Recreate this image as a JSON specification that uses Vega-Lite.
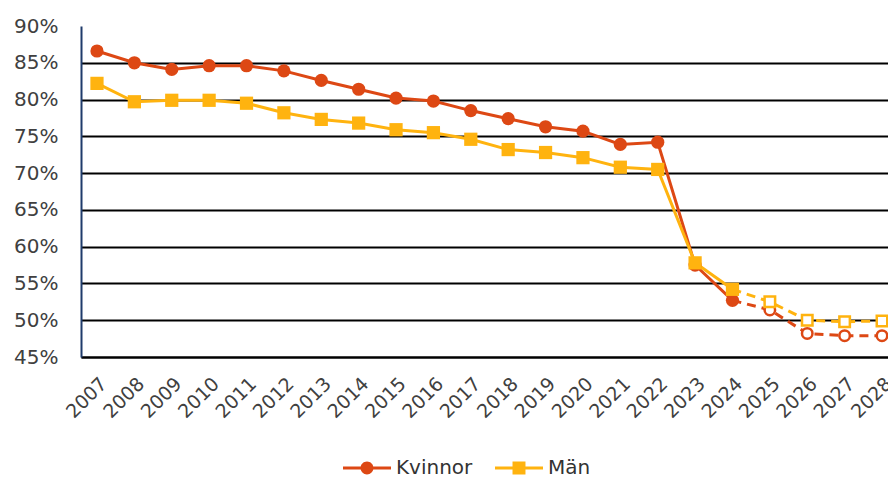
{
  "$schema": "https://vega.github.io/schema/vega-lite/v6.json",
  "autosize": {"type": "none"},
  "padding": {"left": 81, "top": 26, "right": 0, "bottom": 123},
  "width": 807,
  "height": 331,
  "background": "white",
  "config": {
    "view": {"stroke": null},
    "font": "DejaVu Sans",
    "axis": {"labelFont": "DejaVu Sans", "labelColor": "#404040", "ticks": false, "title": null},
    "legend": {"labelFont": "DejaVu Sans"}
  },
  "data": {
    "values": [
      {"year": 2007, "kon": "Kvinnor", "andel": 86.6},
      {"year": 2008, "kon": "Kvinnor", "andel": 85.0},
      {"year": 2009, "kon": "Kvinnor", "andel": 84.1},
      {"year": 2010, "kon": "Kvinnor", "andel": 84.6},
      {"year": 2011, "kon": "Kvinnor", "andel": 84.6},
      {"year": 2012, "kon": "Kvinnor", "andel": 83.9},
      {"year": 2013, "kon": "Kvinnor", "andel": 82.6},
      {"year": 2014, "kon": "Kvinnor", "andel": 81.4},
      {"year": 2015, "kon": "Kvinnor", "andel": 80.2},
      {"year": 2016, "kon": "Kvinnor", "andel": 79.8},
      {"year": 2017, "kon": "Kvinnor", "andel": 78.5},
      {"year": 2018, "kon": "Kvinnor", "andel": 77.4},
      {"year": 2019, "kon": "Kvinnor", "andel": 76.3},
      {"year": 2020, "kon": "Kvinnor", "andel": 75.7},
      {"year": 2021, "kon": "Kvinnor", "andel": 73.9},
      {"year": 2022, "kon": "Kvinnor", "andel": 74.2},
      {"year": 2023, "kon": "Kvinnor", "andel": 57.5},
      {"year": 2024, "kon": "Kvinnor", "andel": 52.7},
      {"year": 2025, "kon": "Kvinnor", "andel": 51.4},
      {"year": 2026, "kon": "Kvinnor", "andel": 48.2},
      {"year": 2027, "kon": "Kvinnor", "andel": 47.9},
      {"year": 2028, "kon": "Kvinnor", "andel": 47.9},
      {"year": 2007, "kon": "Män", "andel": 82.2},
      {"year": 2008, "kon": "Män", "andel": 79.7},
      {"year": 2009, "kon": "Män", "andel": 79.9},
      {"year": 2010, "kon": "Män", "andel": 79.9},
      {"year": 2011, "kon": "Män", "andel": 79.5},
      {"year": 2012, "kon": "Män", "andel": 78.2},
      {"year": 2013, "kon": "Män", "andel": 77.3},
      {"year": 2014, "kon": "Män", "andel": 76.8},
      {"year": 2015, "kon": "Män", "andel": 75.9},
      {"year": 2016, "kon": "Män", "andel": 75.5},
      {"year": 2017, "kon": "Män", "andel": 74.6},
      {"year": 2018, "kon": "Män", "andel": 73.2},
      {"year": 2019, "kon": "Män", "andel": 72.8},
      {"year": 2020, "kon": "Män", "andel": 72.1},
      {"year": 2021, "kon": "Män", "andel": 70.8},
      {"year": 2022, "kon": "Män", "andel": 70.5},
      {"year": 2023, "kon": "Män", "andel": 57.8},
      {"year": 2024, "kon": "Män", "andel": 54.2},
      {"year": 2025, "kon": "Män", "andel": 52.5},
      {"year": 2026, "kon": "Män", "andel": 50.0},
      {"year": 2027, "kon": "Män", "andel": 49.8},
      {"year": 2028, "kon": "Män", "andel": 49.9}
    ]
  },
  "encoding": {
    "x": {
      "field": "year",
      "type": "ordinal",
      "scale": {"type": "point", "padding": 0.294, "align": 0.727},
      "axis": {
        "labelAngle": -45,
        "labelFontSize": 19,
        "labelPadding": 17,
        "labelOverlap": false,
        "domainColor": "#000000",
        "domainWidth": 2,
        "grid": false
      }
    },
    "y": {
      "field": "andel",
      "type": "quantitative",
      "scale": {"domain": [45, 90], "nice": false, "zero": false},
      "axis": {
        "values": [45, 50, 55, 60, 65, 70, 75, 80, 85, 90],
        "labelExpr": "datum.value + '%'",
        "labelFontSize": 20,
        "labelPadding": 23,
        "domainColor": "#1F3B6B",
        "domainWidth": 2,
        "grid": true,
        "gridColor": "#000000",
        "gridWidth": 2,
        "gridOpacity": {"condition": {"test": "datum.value >= 90", "value": 0}, "value": 1}
      }
    },
    "color": {
      "field": "kon",
      "type": "nominal",
      "scale": {"domain": ["Kvinnor", "Män"], "range": ["#DD4814", "#FFB30F"]},
      "legend": {
        "title": null,
        "orient": "none",
        "direction": "horizontal",
        "legendX": 262,
        "legendY": 418,
        "padding": 0,
        "columnPadding": 22,
        "labelFontSize": 20,
        "labelColor": "#333333",
        "labelOffset": 5,
        "symbolSize": 2304,
        "symbolStrokeWidth": 0,
        "encode": {
          "symbols": {
            "update": {
              "shape": {"signal": "datum.value === 'Kvinnor' ? 'M-1,-0.0625H1V0.0625H-1Z M0.27,0A0.27,0.27 0 1 1 -0.27,0A0.27,0.27 0 1 1 0.27,0Z' : 'M-1,-0.0625H1V0.0625H-1Z M-0.27,-0.27H0.27V0.27H-0.27Z'"},
              "fill": {"signal": "scale('color', datum.value)"},
              "stroke": {"value": "transparent"},
              "strokeWidth": {"value": 0},
              "opacity": {"value": 1}
            }
          }
        }
      }
    }
  },
  "layer": [
    {
      "transform": [{"filter": "datum.year >= 2024"}],
      "mark": {"type": "line", "strokeWidth": 3, "strokeDash": [9, 6]}
    },
    {
      "transform": [{"filter": "datum.year <= 2024"}],
      "mark": {"type": "line", "strokeWidth": 3}
    },
    {
      "transform": [{"filter": "datum.year >= 2025 && datum.kon === 'Kvinnor'"}],
      "mark": {"type": "point", "shape": "circle", "filled": false, "fill": "white", "strokeWidth": 2.5, "opacity": 1, "size": 110}
    },
    {
      "transform": [{"filter": "datum.year >= 2025 && datum.kon === 'Män'"}],
      "mark": {"type": "point", "shape": "square", "filled": false, "fill": "white", "strokeWidth": 2.5, "opacity": 1, "size": 110}
    },
    {
      "transform": [{"filter": "datum.year <= 2024 && datum.kon === 'Kvinnor'"}],
      "mark": {"type": "point", "shape": "circle", "filled": true, "opacity": 1, "size": 175}
    },
    {
      "transform": [{"filter": "datum.year <= 2024 && datum.kon === 'Män'"}],
      "mark": {"type": "point", "shape": "square", "filled": true, "opacity": 1, "size": 175}
    }
  ]
}
